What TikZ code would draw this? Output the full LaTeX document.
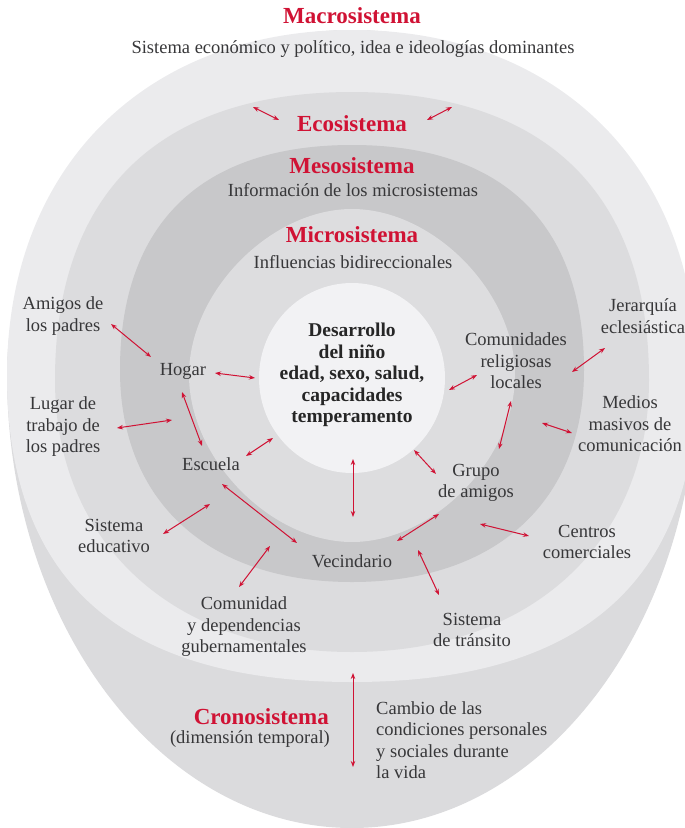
\documentclass[tikz,border=0pt]{standalone}
\usepackage{fontspec}
\setmainfont{Liberation Serif}
\usetikzlibrary{arrows.meta}

\definecolor{rojo}{RGB}{208,18,52}
\definecolor{texto}{RGB}{55,55,57}
\definecolor{crono}{RGB}{219,219,221}
\definecolor{macro}{RGB}{235,235,237}
\definecolor{eco}{RGB}{220,220,222}
\definecolor{meso}{RGB}{200,200,202}
\definecolor{micro}{RGB}{221,221,223}
\definecolor{nucleo}{RGB}{242,242,244}

\tikzset{
  rotulo/.style={text=texto, align=center, inner sep=0pt, font=\fontsize{18.5}{21.5}\selectfont},
  sistema/.style={text=rojo, inner sep=0pt, font=\fontsize{23}{26}\selectfont\bfseries},
  flecha/.style={rojo, line width=1pt, <->}
}

\begin{document}
\begin{tikzpicture}[x=1pt, y=-1pt, >={Stealth[length=6pt,width=4.5pt]}]
  \useasboundingbox (0,0) rectangle (685,828);
  \clip (0,0) rectangle (685,828);

  % nested systems, outer to inner: colour/cy/rx/ry top/ry bottom/k top/k bottom
  \foreach \col/\cy/\rx/\rt/\rb/\kt/\kb in {
      crono/375/345/345/453/0.552/0.552,
      macro/375/345/345/307/0.60/0.67,
      eco/380/297/288/272/0.65/0.60,
      meso/370/232/225/212/0.65/0.62,
      micro/375/163/166/167/0.50/0.50,
      nucleo/378/93/95/95/0.552/0.552} {
    \fill[\col] (352-\rx,\cy)
      .. controls (352-\rx,\cy-\kt*\rt) and (352-\kt*\rx,\cy-\rt) .. (352,\cy-\rt)
      .. controls (352+\kt*\rx,\cy-\rt) and (352+\rx,\cy-\kt*\rt) .. (352+\rx,\cy)
      .. controls (352+\rx,\cy+\kb*\rb) and (352+\kb*\rx,\cy+\rb) .. (352,\cy+\rb)
      .. controls (352-\kb*\rx,\cy+\rb) and (352-\rx,\cy+\kb*\rb) .. cycle;
  }

  % titles of the systems
  \node[sistema] (macrosis) at (352,16) {Macrosistema};
  \node[rotulo] (macrotxt) at (353,49) {Sistema económico y político, idea e ideologías dominantes};
  \node[sistema] (ecosis) at (352,124) {Ecosistema};
  \node[sistema] (mesosis) at (352,166) {Mesosistema};
  \node[rotulo] (mesotxt) at (353,190) {Información de los microsistemas};
  \node[sistema] (microsis) at (352,235) {Microsistema};
  \node[rotulo] (microtxt) at (353,262) {Influencias bidireccionales};

  % the child in the middle
  \node[text=black!85, align=center, inner sep=0pt, font=\fontsize{19.5}{21.5}\selectfont\bfseries]
    (nino) at (352,375) {Desarrollo\\del niño\\edad, sexo, salud,\\capacidades\\temperamento};

  % settings around the child
  \node[rotulo] (amigos) at (63,316) {Amigos de\\los padres};
  \node[rotulo] (hogar) at (183,371) {Hogar};
  \node[rotulo] (lugar) at (63,427) {Lugar de\\trabajo de\\los padres};
  \node[rotulo] (escuela) at (211,464) {Escuela};
  \node[rotulo] (educativo) at (114,536) {Sistema\\educativo};
  \node[rotulo] (vecindario) at (352,561) {Vecindario};
  \node[rotulo] (gobierno) at (244,627) {Comunidad\\y dependencias\\gubernamentales};
  \node[rotulo] (transito) at (472,630) {Sistema\\de tránsito};
  \node[rotulo] (religiosas) at (516,361) {Comunidades\\religiosas\\locales};
  \node[rotulo] (jerarquia) at (643,316) {Jerarquía\\eclesiástica};
  \node[rotulo] (medios) at (630,424) {Medios\\masivos de\\comunicación};
  \node[rotulo] (grupo) at (476,483) {Grupo\\de amigos};
  \node[rotulo] (centros) at (587,542) {Centros\\comerciales};

  % time dimension
  \node[sistema, anchor=east] (cronosis) at (329,717) {Cronosistema};
  \node[rotulo, anchor=east] (cronotxt) at (330,739) {(dimensión temporal)};
  \node[rotulo, align=left, anchor=west] (cambio) at (376,740)
    {Cambio de las\\condiciones personales\\y sociales durante\\la vida};

  % arrow ends
  \foreach \n/\x/\y in {
      ecoA/253/107, ecoB/279/120, ecoC/427/120, ecoD/452/107,
      amigosA/111/324, amigosB/151/357, hogarA/215/373, hogarB/255/378,
      lugarA/117/428, lugarB/172/420, hogarC/182/392, escuelaA/202/446,
      escuelaB/246/456, escuelaC/273/438, educA/163/534, educB/210/504,
      escuelaD/222/484, vecinoA/297/543, ninoA/353/459, ninoB/353/517,
      relA/449/390, relB/477/375, jerA/572/372, jerB/605/348,
      relC/511/401, grupoA/499/449, mediosA/542/423, mediosB/572/433,
      grupoB/414/450, grupoC/436/474, grupoD/439/514, vecinoB/397/541,
      centrosA/480/524, centrosB/529/536, gobA/270/546, gobB/239/587,
      transA/418/550, transB/439/595, cronoA/353/673, cronoB/353/767}
    \coordinate (\n) at (\x,\y);

  \foreach \a/\b in {ecoA/ecoB, ecoC/ecoD, amigosA/amigosB, hogarA/hogarB,
      lugarA/lugarB, hogarC/escuelaA, escuelaB/escuelaC, educA/educB,
      escuelaD/vecinoA, ninoA/ninoB, relA/relB, jerA/jerB, relC/grupoA,
      mediosA/mediosB, grupoB/grupoC, grupoD/vecinoB, centrosA/centrosB,
      gobA/gobB, transA/transB, cronoA/cronoB}
    \draw[flecha] (\a) -- (\b);
\end{tikzpicture}
\end{document}
